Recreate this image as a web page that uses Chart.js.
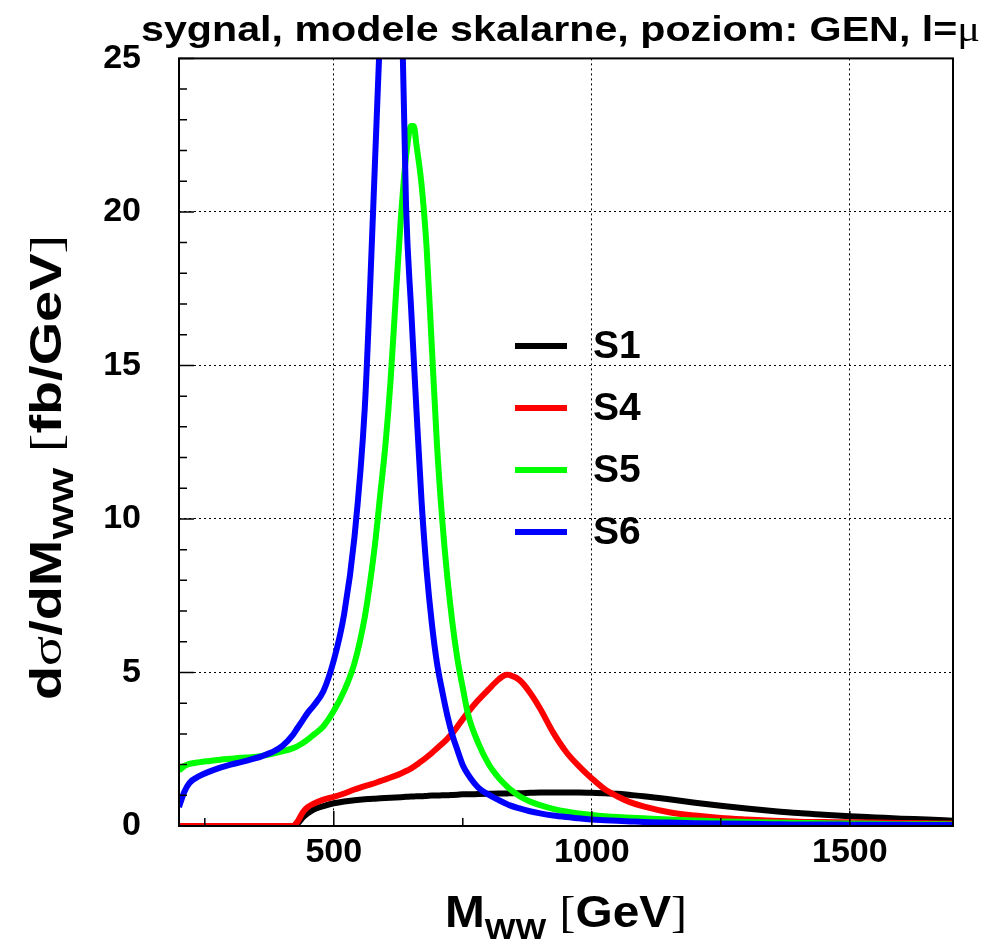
<!DOCTYPE html>
<html>
<head>
<meta charset="utf-8">
<title>sygnal, modele skalarne</title>
<script src="https://cdn.jsdelivr.net/npm/chart.js@4.4.0/dist/chart.umd.min.js"></script>
<style>
    body { margin: 0; background: #fff; }
    #wrap { width: 997px; height: 942px; }
</style>
</head>
<body>
<div id="wrap"><canvas id="chart" width="997" height="942"></canvas></div>
<script>
// ========================================
// DATA
// ========================================

// M_WW [GeV]
const mww = [200, 210, 220, 240, 260, 280, 300, 320, 340, 360, 380, 400, 420, 430, 440, 450, 460, 480, 500, 520,
    540, 560, 570, 580, 590, 600, 610, 620, 630, 640, 650, 655, 660, 670, 680, 690, 700, 710, 720, 730,
    740, 750, 760, 780, 800, 820, 835, 840, 860, 880, 900, 925, 950, 975, 1000, 1025, 1050, 1075, 1100, 1150,
    1200, 1250, 1300, 1350, 1400, 1450, 1500, 1550, 1600, 1650, 1700];

// dsigma/dM_WW [fb/GeV]
const s1 = [0, 0, 0, 0, 0, 0, 0, 0, 0, 0, 0, 0, 0, 0.08, 0.28, 0.42, 0.53, 0.65, 0.74, 0.80,
    0.84, 0.87, 0.88, 0.89, 0.90, 0.91, 0.92, 0.93, 0.94, 0.95, 0.96, 0.96, 0.97, 0.97, 0.98, 0.99, 0.99, 1.00, 1.00, 1.01,
    1.02, 1.03, 1.03, 1.04, 1.05, 1.06, 1.06, 1.07, 1.07, 1.08, 1.09, 1.09, 1.09, 1.09, 1.08, 1.07, 1.05, 1.01, 0.97, 0.87,
    0.76, 0.66, 0.57, 0.49, 0.42, 0.37, 0.32, 0.28, 0.24, 0.21, 0.17];

const s4 = [0, 0, 0, 0, 0, 0, 0, 0, 0, 0, 0, 0, 0, 0.15, 0.45, 0.62, 0.72, 0.86, 0.95, 1.06,
    1.19, 1.30, 1.35, 1.40, 1.46, 1.52, 1.58, 1.64, 1.71, 1.79, 1.88, 1.93, 1.99, 2.11, 2.24, 2.38, 2.53, 2.68, 2.84, 3.02,
    3.25, 3.48, 3.70, 4.10, 4.45, 4.78, 4.93, 4.92, 4.75, 4.35, 3.82, 3.05, 2.42, 1.95, 1.55, 1.20, 0.96, 0.77, 0.64, 0.45,
    0.34, 0.26, 0.21, 0.17, 0.14, 0.13, 0.12, 0.11, 0.10, 0.09, 0.08];

const s5 = [1.81, 1.95, 2.02, 2.08, 2.12, 2.16, 2.19, 2.22, 2.24, 2.28, 2.35, 2.43, 2.53, 2.60, 2.70, 2.82, 2.96, 3.25, 3.75, 4.40,
    5.30, 6.80, 7.90, 9.20, 10.8, 12.4, 14.5, 17.2, 19.8, 21.8, 22.8, 22.8, 22.2, 20.9, 18.8, 15.6, 12.4, 10.0, 8.1, 6.6,
    5.4, 4.5, 3.65, 2.70, 2.02, 1.56, 1.30, 1.22, 0.97, 0.80, 0.68, 0.56, 0.47, 0.41, 0.36, 0.32, 0.29, 0.27, 0.25, 0.21,
    0.18, 0.15, 0.13, 0.11, 0.10, 0.09, 0.08, 0.07, 0.06, 0.06, 0.05];

const s6 = [0.62, 1.10, 1.40, 1.63, 1.78, 1.90, 2.00, 2.08, 2.17, 2.27, 2.40, 2.60, 2.95, 3.20, 3.45, 3.70, 3.90, 4.40, 5.40, 6.90,
    9.40, 13.6, 17.4, 21.7, 26.0, 30.0, 32.0, 31.0, 28.0, 20.2, 16.8, 15.2, 13.6, 10.6, 8.3, 6.6, 5.3, 4.4, 3.6, 2.95,
    2.45, 1.98, 1.68, 1.25, 1.02, 0.84, 0.72, 0.68, 0.57, 0.48, 0.41, 0.34, 0.29, 0.25, 0.21, 0.19, 0.17, 0.15, 0.13, 0.11,
    0.09, 0.08, 0.07, 0.06, 0.05, 0.05, 0.04, 0.04, 0.04, 0.03, 0.03];

const seriesNames = ['S1', 'S4', 'S5', 'S6'];
const seriesColors = ['#000000', '#ff0000', '#00ff00', '#0000ff'];
const seriesValues = [s1, s4, s5, s6];

const xTicks = [500, 1000, 1500];
const yTicks = [0, 5, 10, 15, 20, 25];

// ========================================
// TEXT HELPERS
// ========================================

const SANS = '"Liberation Sans", Arial, Helvetica, sans-serif';
const SERIF = '"Liberation Serif", "Times New Roman", serif';

// Draw a run of text pieces (mixed fonts / subscripts), squeezed to a given width
function drawParts(ctx, parts, x, y, width) {
    let total = 0;
    parts.forEach(p => {
        ctx.font = p.font;
        p.w = ctx.measureText(p.t).width;
        total += p.w;
    });
    const sx = width ? width / total : 1;
    ctx.save();
    ctx.translate(x, y);
    ctx.scale(sx, 1);
    ctx.fillStyle = '#000';
    ctx.textBaseline = 'alphabetic';
    ctx.textAlign = 'left';
    let cx = 0;
    parts.forEach(p => {
        ctx.font = p.font;
        ctx.fillText(p.t, cx, p.dy || 0);
        cx += p.w;
    });
    ctx.restore();
}

// ========================================
// ROOT-STYLE DECORATIONS
// ========================================

const rootStyle = {
    id: 'rootStyle',
    afterDraw(chart) {
        const ctx = chart.ctx;
        const area = chart.chartArea;
        const xs = chart.scales.x;
        const ys = chart.scales.y;

        // inner ticks
        ctx.save();
        ctx.strokeStyle = '#000';
        ctx.lineWidth = 1.5;
        ctx.beginPath();
        for (let v = 0; v <= 25; v++) {
            const py = ys.getPixelForValue(v);
            const len = v % 5 === 0 ? 15 : 8;
            ctx.moveTo(area.left, py);
            ctx.lineTo(area.left + len, py);
        }
        for (let v = 250; v <= 1700; v += 250) {
            const px = xs.getPixelForValue(v);
            const len = v % 500 === 0 ? 15 : 8;
            ctx.moveTo(px, area.bottom);
            ctx.lineTo(px, area.bottom - len);
        }
        ctx.stroke();

        // frame
        ctx.lineWidth = 2;
        ctx.strokeRect(area.left, area.top, area.right - area.left, area.bottom - area.top);
        ctx.restore();

        // title
        drawParts(ctx, [
            { t: 'sygnal, modele skalarne, poziom: GEN, l=', font: 'bold 35px ' + SANS },
            { t: '\u03bc', font: '36px ' + SERIF }
        ], 141, 41, 839);

        // x axis title
        drawParts(ctx, [
            { t: 'M', font: 'bold 44px ' + SANS },
            { t: 'WW', font: 'bold 30px ' + SANS, dy: 12 },
            { t: ' ', font: 'bold 44px ' + SANS },
            { t: '[', font: '44px ' + SERIF },
            { t: 'GeV', font: 'bold 44px ' + SANS },
            { t: ']', font: '44px ' + SERIF }
        ], 445, 927, 242);

        // y axis title (rotated)
        ctx.save();
        ctx.translate(61, 700);
        ctx.rotate(-Math.PI / 2);
        drawParts(ctx, [
            { t: 'd', font: 'bold 44px ' + SANS },
            { t: '\u03c3', font: '44px ' + SERIF },
            { t: '/dM', font: 'bold 44px ' + SANS },
            { t: 'WW', font: 'bold 30px ' + SANS, dy: 12 },
            { t: ' ', font: 'bold 44px ' + SANS },
            { t: '[', font: '44px ' + SERIF },
            { t: 'fb/GeV', font: 'bold 44px ' + SANS },
            { t: ']', font: '44px ' + SERIF }
        ], 0, 0, 465);
        ctx.restore();

        // legend
        ctx.save();
        chart.data.datasets.forEach((ds, i) => {
            const y = 346 + i * 62;
            ctx.strokeStyle = ds.borderColor;
            ctx.lineWidth = 6;
            ctx.beginPath();
            ctx.moveTo(515, y);
            ctx.lineTo(567, y);
            ctx.stroke();
            ctx.fillStyle = '#000';
            ctx.font = 'bold 39px ' + SANS;
            ctx.textBaseline = 'middle';
            ctx.fillText(ds.label, 593, y + 1);
        });
        ctx.restore();
    }
};

// ========================================
// CHART
// ========================================

const datasets = seriesNames.map((name, i) => ({
    label: name,
    data: mww.map((x, j) => ({ x: x, y: seriesValues[i][j] })),
    borderColor: seriesColors[i],
    backgroundColor: seriesColors[i],
    borderWidth: 6,
    pointRadius: 0,
    fill: false,
    cubicInterpolationMode: 'monotone',
    order: seriesNames.length - 1 - i
}));

const tickFont = { family: SANS, weight: 'bold', size: 34 };

new Chart(document.getElementById('chart').getContext('2d'), {
    type: 'line',
    data: { datasets: datasets },
    options: {
        responsive: false,
        animation: false,
        layout: { padding: { left: 0, top: 52, right: 44, bottom: 0 } },
        plugins: {
            legend: { display: false },
            title: { display: false },
            tooltip: { enabled: false }
        },
        scales: {
            x: {
                type: 'linear',
                min: 200,
                max: 1700,
                afterFit: s => { s.height = 116; },
                afterBuildTicks: s => { s.ticks = xTicks.map(v => ({ value: v })); },
                grid: { color: '#000', lineWidth: 1, drawTicks: false },
                border: { display: false, dash: [2, 3] },
                ticks: { font: tickFont, color: '#000', padding: 6, maxRotation: 0, autoSkip: false,
                    callback: v => String(v) }
            },
            y: {
                type: 'linear',
                min: 0,
                max: 25,
                afterFit: s => { s.width = 179; },
                afterBuildTicks: s => { s.ticks = yTicks.map(v => ({ value: v })); },
                grid: { color: '#000', lineWidth: 1, drawTicks: false },
                border: { display: false, dash: [2, 3] },
                ticks: { font: tickFont, color: '#000', padding: 38, callback: v => String(v) }
            }
        }
    },
    plugins: [rootStyle]
});
</script>
</body>
</html>
